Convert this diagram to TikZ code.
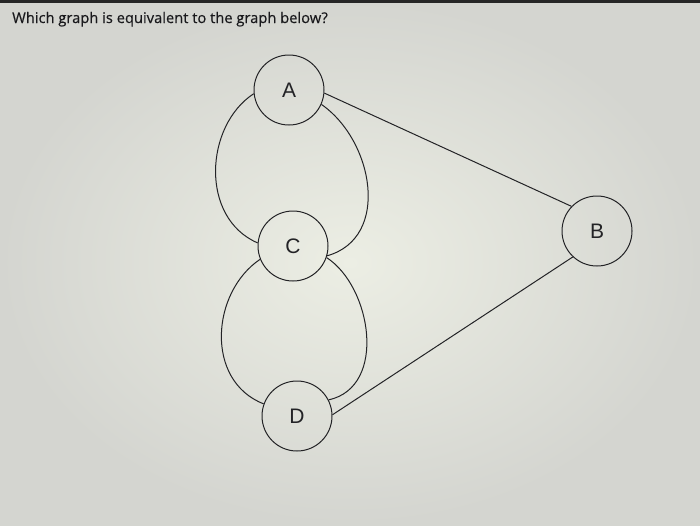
\documentclass[tikz,border=0pt]{standalone}
\usepackage{fontspec}
\setmainfont{Liberation Sans}
\newfontfamily\titlefont[FakeBold=0.4]{Open Sans}
\definecolor{bgin}{RGB}{236,238,228}
\definecolor{bgout}{RGB}{212,213,208}
\definecolor{ink}{RGB}{35,35,38}
\definecolor{titleink}{RGB}{25,25,28}
\tikzset{
  vtx/.style={circle, draw=ink, line width=1pt, minimum size=70pt, inner sep=0pt, font=\fontsize{21}{21}\selectfont, text=ink},
  edge/.style={draw=ink, line width=1pt}
}
\begin{document}
\begin{tikzpicture}[x=1pt,y=-1pt]
\useasboundingbox (0,0) rectangle (700,525);
\shade[inner color=bgin, outer color=bgout] (0,0) rectangle (700,525);
\fill[black!85] (0,0) rectangle (700,3);
\node[anchor=base west, inner sep=0pt, text=titleink, font=\titlefont\fontsize{14.7}{14.7}\selectfont] (title) at (12,23) {Which graph is equivalent to the graph below?};
\node[vtx] (A) at (289,90) {A};
\node[vtx] (C) at (293,246) {C};
\node[vtx] (D) at (297,416) {D};
\node[vtx] (B) at (597,231) {B};
\draw[edge] (A.186) .. controls +(-49,32) and +(-58,-25) .. (C.175);
\draw[edge] (A.336) .. controls +(52,36) and +(64,-18) .. (C.344);
\draw[edge] (C.202) .. controls +(-49,33) and +(-59,-23) .. (D.160);
\draw[edge] (C.341) .. controls +(45,29) and +(59,-13) .. (D.27);
\draw[edge] (A.-5) -- (B.136);
\draw[edge] (D.2) -- (B.227);
\end{tikzpicture}
\end{document}
